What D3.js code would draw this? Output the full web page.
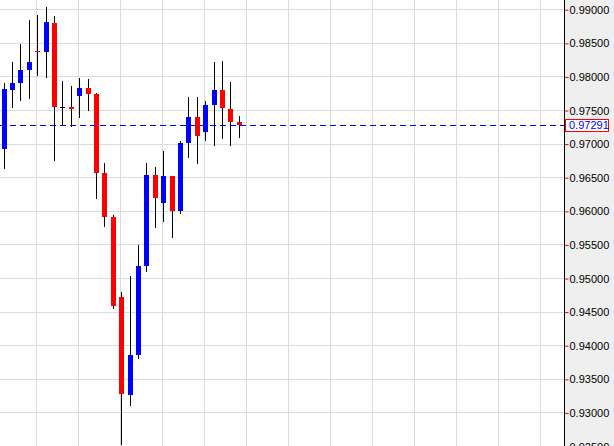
<!DOCTYPE html>
<html>
<head>
<meta charset="utf-8">
<script src="https://cdn.jsdelivr.net/npm/d3@7"></script>
<style>
html,body{margin:0;padding:0;background:#fff;overflow:hidden;}
svg{display:block;}
</style>
</head>
<body>
<svg id="chart" width="614" height="446"></svg>
<script>
const opens  = [0.96932,0.97810,0.97914,0.98107,0.98390,0.98375,0.98802,0.97548,0.97557,0.97720,0.97835,0.97745,0.96565,0.95915,0.94725,0.93266,0.93866,0.95186,0.96540,0.96128,0.96525,0.96009,0.97021,0.97403,0.97185,0.97586,0.97810,0.97522,0.97330];
const highs  = [0.97909,0.98222,0.98490,0.98847,0.98921,0.99040,0.98906,0.97939,0.97865,0.97984,0.97969,0.97760,0.96719,0.95949,0.94799,0.95037,0.95499,0.96719,0.96659,0.96897,0.96530,0.97046,0.97701,0.97701,0.97641,0.98222,0.98237,0.97924,0.97418];
const lows   = [0.96634,0.97542,0.97646,0.97667,0.98013,0.97988,0.96753,0.97274,0.97259,0.97393,0.97497,0.96183,0.95771,0.94551,0.92522,0.93107,0.93807,0.95101,0.95756,0.95845,0.95607,0.95964,0.96798,0.96708,0.97051,0.96976,0.97080,0.96976,0.97095];
const closes = [0.97820,0.97909,0.98103,0.98222,0.98380,0.98817,0.97557,0.97548,0.97527,0.97835,0.97750,0.96570,0.95920,0.94591,0.93286,0.93862,0.95186,0.96540,0.96202,0.96525,0.96009,0.97016,0.97403,0.97125,0.97582,0.97810,0.97542,0.97333,0.97291];
const currentPrice = 0.97291;
const tickValues = [0.925,0.930,0.935,0.940,0.945,0.950,0.955,0.960,0.965,0.970,0.975,0.980,0.985,0.990];
const gridIndexes = [4,9,14,19,24,29,34,39,44,49,54,59,64];

const W = 614, H = 446, axisX = 564;
const svg = d3.select("#chart");
const x = d3.scaleLinear().domain([0, 67]).range([3.5, 3.5 + 8.4 * 67]);
const y = d3.scaleLinear().domain([0.925, 0.99]).range([446.5, 9.7]);
const fmt = d3.format(".5f");

// right panel background
svg.append("rect").attr("x", axisX).attr("y", 0).attr("width", W - axisX).attr("height", H).attr("fill", "#efefef");

// grid
const grid = svg.append("g");
grid.selectAll("line.h").data(tickValues).join("line")
  .attr("x1", 0).attr("x2", axisX)
  .attr("y1", d => Math.floor(y(d)) + 0.5).attr("y2", d => Math.floor(y(d)) + 0.5)
  .attr("stroke", "#dadada").attr("stroke-width", 1);
grid.selectAll("line.v").data(gridIndexes).join("line")
  .attr("x1", d => Math.round(x(d) - 1) + 0.5).attr("x2", d => Math.round(x(d) - 1) + 0.5)
  .attr("y1", 0).attr("y2", H)
  .attr("stroke", "#dadada").attr("stroke-width", 1);

// candles
const data = opens.map((o, i) => ({i, o, h: highs[i], l: lows[i], c: closes[i]}));
const cg = svg.append("g");
const px = d => Math.round(x(d.i));
cg.selectAll("line.wick").data(data).join("line")
  .attr("x1", d => px(d) + 0.5).attr("x2", d => px(d) + 0.5)
  .attr("y1", d => Math.round(y(d.h))).attr("y2", d => Math.round(y(d.l)))
  .attr("stroke", "#000").attr("stroke-width", 1);
cg.selectAll("rect.body").data(data).join("rect")
  .attr("x", d => px(d) - 2)
  .attr("width", 5)
  .attr("y", d => Math.round(y(Math.max(d.o, d.c))))
  .attr("height", d => Math.max(1, Math.round(y(Math.min(d.o, d.c))) - Math.round(y(Math.max(d.o, d.c)))))
  .attr("fill", d => d.c > d.o ? "#0000ff" : (d.c < d.o ? "#ff0000" : "#000000"));

// current price dashed line
const yp = Math.round(y(currentPrice)) + 0.5;
svg.append("line").attr("x1", 0).attr("x2", axisX).attr("y1", yp).attr("y2", yp)
  .attr("stroke", "#0000ff").attr("stroke-width", 1).attr("stroke-dasharray", "6,4");

// axis
const axis = d3.axisRight(y).tickValues(tickValues).tickFormat(fmt).tickSize(4).tickPadding(1);
const ag = svg.append("g").attr("transform", `translate(${axisX + 0.5},0)`).call(axis);
ag.select(".domain").remove();
ag.selectAll(".tick line").attr("stroke", "#ff0000");
ag.selectAll(".tick text").attr("fill", "#000").attr("font-family", "'Liberation Sans', Arial, sans-serif").attr("font-size", 11);
svg.append("line").attr("x1", axisX + 0.5).attr("x2", axisX + 0.5).attr("y1", 0).attr("y2", H).attr("stroke", "#000");

// current price label
const lab = svg.append("g");
lab.append("rect").attr("x", 565.5).attr("y", yp - 6).attr("width", 43).attr("height", 12)
  .attr("fill", "#ffffff").attr("stroke", "#ff0000").attr("stroke-width", 1);
lab.append("text").attr("x", 569).attr("y", yp).attr("dy", "0.35em")
  .attr("fill", "#0000ff").attr("font-family", "'Liberation Sans', Arial, sans-serif").attr("font-size", 11)
  .text(fmt(currentPrice));
</script>
</body>
</html>
